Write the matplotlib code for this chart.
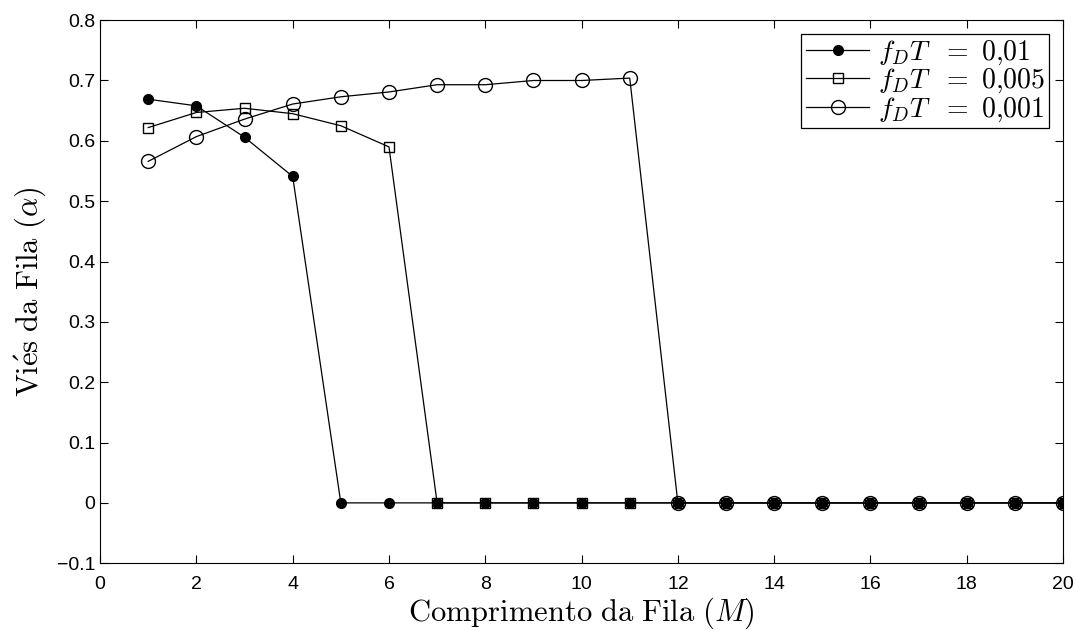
import matplotlib
matplotlib.use("Agg")
import matplotlib.pyplot as plt
import numpy as np

plt.rcParams["mathtext.fontset"] = "cm"
plt.rcParams["font.family"] = ["Liberation Sans", "DejaVu Sans"]

# queue length M
M = np.arange(1, 21)

# queue bias alpha for each f_D T
alpha_001 = [0.669, 0.658, 0.606, 0.541] + [0.0] * 16
alpha_0005 = [0.622, 0.647, 0.654, 0.645, 0.625, 0.590] + [0.0] * 14
alpha_0001 = [0.566, 0.607, 0.636, 0.661, 0.673, 0.681, 0.693, 0.693,
              0.700, 0.700, 0.704] + [0.0] * 9

labels = [r"$f_DT\ \ =\ 0{,}01$", r"$f_DT\ \ =\ 0{,}005$", r"$f_DT\ \ =\ 0{,}001$"]

fig, ax = plt.subplots(figsize=(10.76, 6.3), dpi=100)
plt.subplots_adjust(left=0.093, right=0.988, top=0.968, bottom=0.106)

ax.plot(M, alpha_001, "-o", color="k", lw=0.9, ms=7, mfc="k", label=labels[0])
ax.plot(M, alpha_0005, "-s", color="k", lw=0.9, ms=7, mfc="none", label=labels[1])
ax.plot(M, alpha_0001, "-o", color="k", lw=0.9, ms=10, mfc="none", label=labels[2])

ax.set_xlim(0, 20)
ax.set_ylim(-0.1, 0.8)
ax.set_xticks(np.arange(0, 21, 2))
ax.set_yticks(np.arange(-0.1, 0.81, 0.1))
ax.set_yticklabels(["\u22120.1", "0", "0.1", "0.2", "0.3", "0.4", "0.5", "0.6", "0.7", "0.8"])
ax.tick_params(axis="x", pad=9)
ax.tick_params(direction="in", top=True, right=True, labelsize=14, length=6)

ax.set_xlabel(r"$\mathrm{Comprimento\ da\ Fila}\ (M)$", fontsize=22, labelpad=2)
ax.set_ylabel(r"$\mathrm{Vi\acute{e}s\ da\ Fila}\ (\alpha)$", fontsize=22, labelpad=6)

leg = ax.legend(loc="upper right", fontsize=20, fancybox=False, framealpha=1,
                edgecolor="k", handlelength=2.3, handletextpad=0.3,
                borderpad=0.15, labelspacing=0.0, borderaxespad=0.5)
leg.get_frame().set_linewidth(0.9)

plt.savefig("out.png", dpi=100)
